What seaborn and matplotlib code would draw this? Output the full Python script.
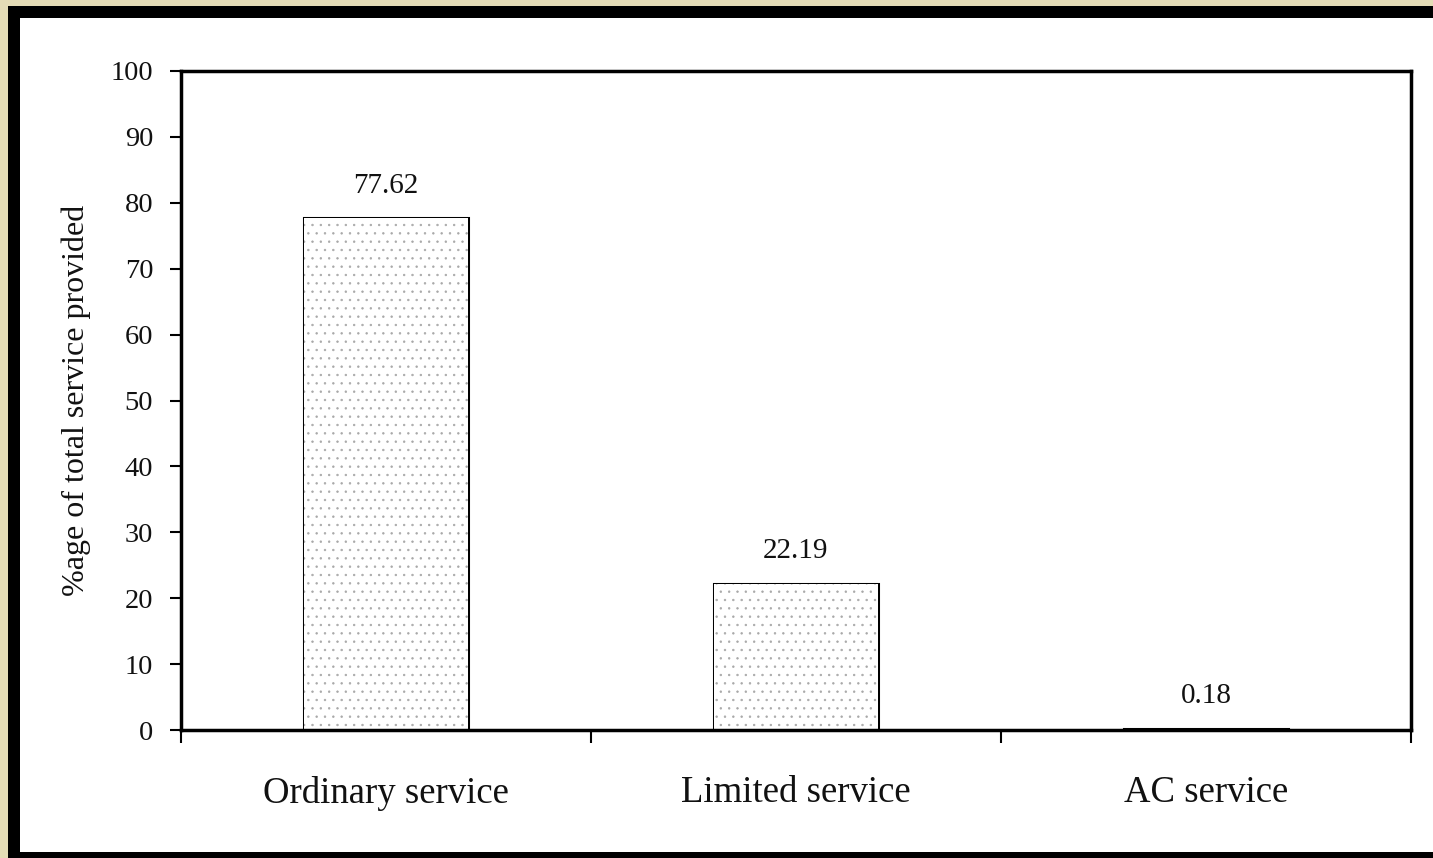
import seaborn as sns
import matplotlib.pyplot as plt
import matplotlib.patheffects as pe
from matplotlib.patches import Rectangle
import pandas as pd

# data
services = ["Ordinary service", "Limited service", "AC service"]
share = [77.62, 22.19, 0.18]
y_ticks = [0, 10, 20, 30, 40, 50, 60, 70, 80, 90, 100]

df = pd.DataFrame({"Service": services, "Share": share})

sns.set_style("white")
plt.rcParams["font.family"] = ["Liberation Serif", "DejaVu Serif"]
plt.rcParams["hatch.linewidth"] = 0.5

W, H = 1433, 858
fig = plt.figure(figsize=(W / 100, H / 100), dpi=100, facecolor="#e4dcb6")

# black frame + white panel (picture is cropped on the right)
fig.patches.append(Rectangle((8 / W, 0), 1.0, 1 - 6 / H, transform=fig.transFigure,
                             facecolor="black", edgecolor="none", zorder=-3))
fig.patches.append(Rectangle((20 / W, 6 / H), 1.0, 1 - 24 / H, transform=fig.transFigure,
                             facecolor="white", edgecolor="none", zorder=-2))

ax = fig.add_axes([181 / W, 1 - 730 / H, (1411 - 181) / W, (730 - 71) / H])
ax.set_facecolor("white")

sns.barplot(data=df, x="Service", y="Share", ax=ax, width=0.4,
            color="white", edgecolor="#a8a8a8", linewidth=0, hatch="..",
            saturation=1)

for p in ax.patches:
    p.set_path_effects([pe.Stroke(linewidth=2.2, foreground="black"), pe.Normal()])

ax.bar_label(ax.containers[0], labels=[f"{v:.2f}" for v in share],
             padding=14, fontsize=21, color="#111111")

ax.set_ylim(0, 100)
ax.set_yticks(y_ticks)
ax.set_xlim(-0.5, len(services) - 0.5)

# ticks at category boundaries, labels at centres
ax.set_xticks([i - 0.5 for i in range(len(services) + 1)])
ax.set_xticklabels([])
ax.set_xticks(range(len(services)), minor=True)
ax.set_xticklabels(services, minor=True, fontsize=26.5, color="#111111")
ax.tick_params(axis="x", which="major", direction="out", length=9.5, width=1.5,
               color="black", bottom=True)
ax.tick_params(axis="x", which="minor", length=0, pad=33)
ax.tick_params(axis="y", direction="out", length=8, width=1.5, color="black",
               left=True, labelsize=20.5, labelcolor="#111111", pad=12)

ax.set_xlabel("")
ax.set_ylabel("%age of total service provided", fontsize=23, color="#111111",
              labelpad=14)

for s in ax.spines.values():
    s.set_visible(True)
    s.set_color("black")
    s.set_linewidth(2.5)

plt.savefig("out.png", dpi=100, facecolor=fig.get_facecolor())
plt.close()
